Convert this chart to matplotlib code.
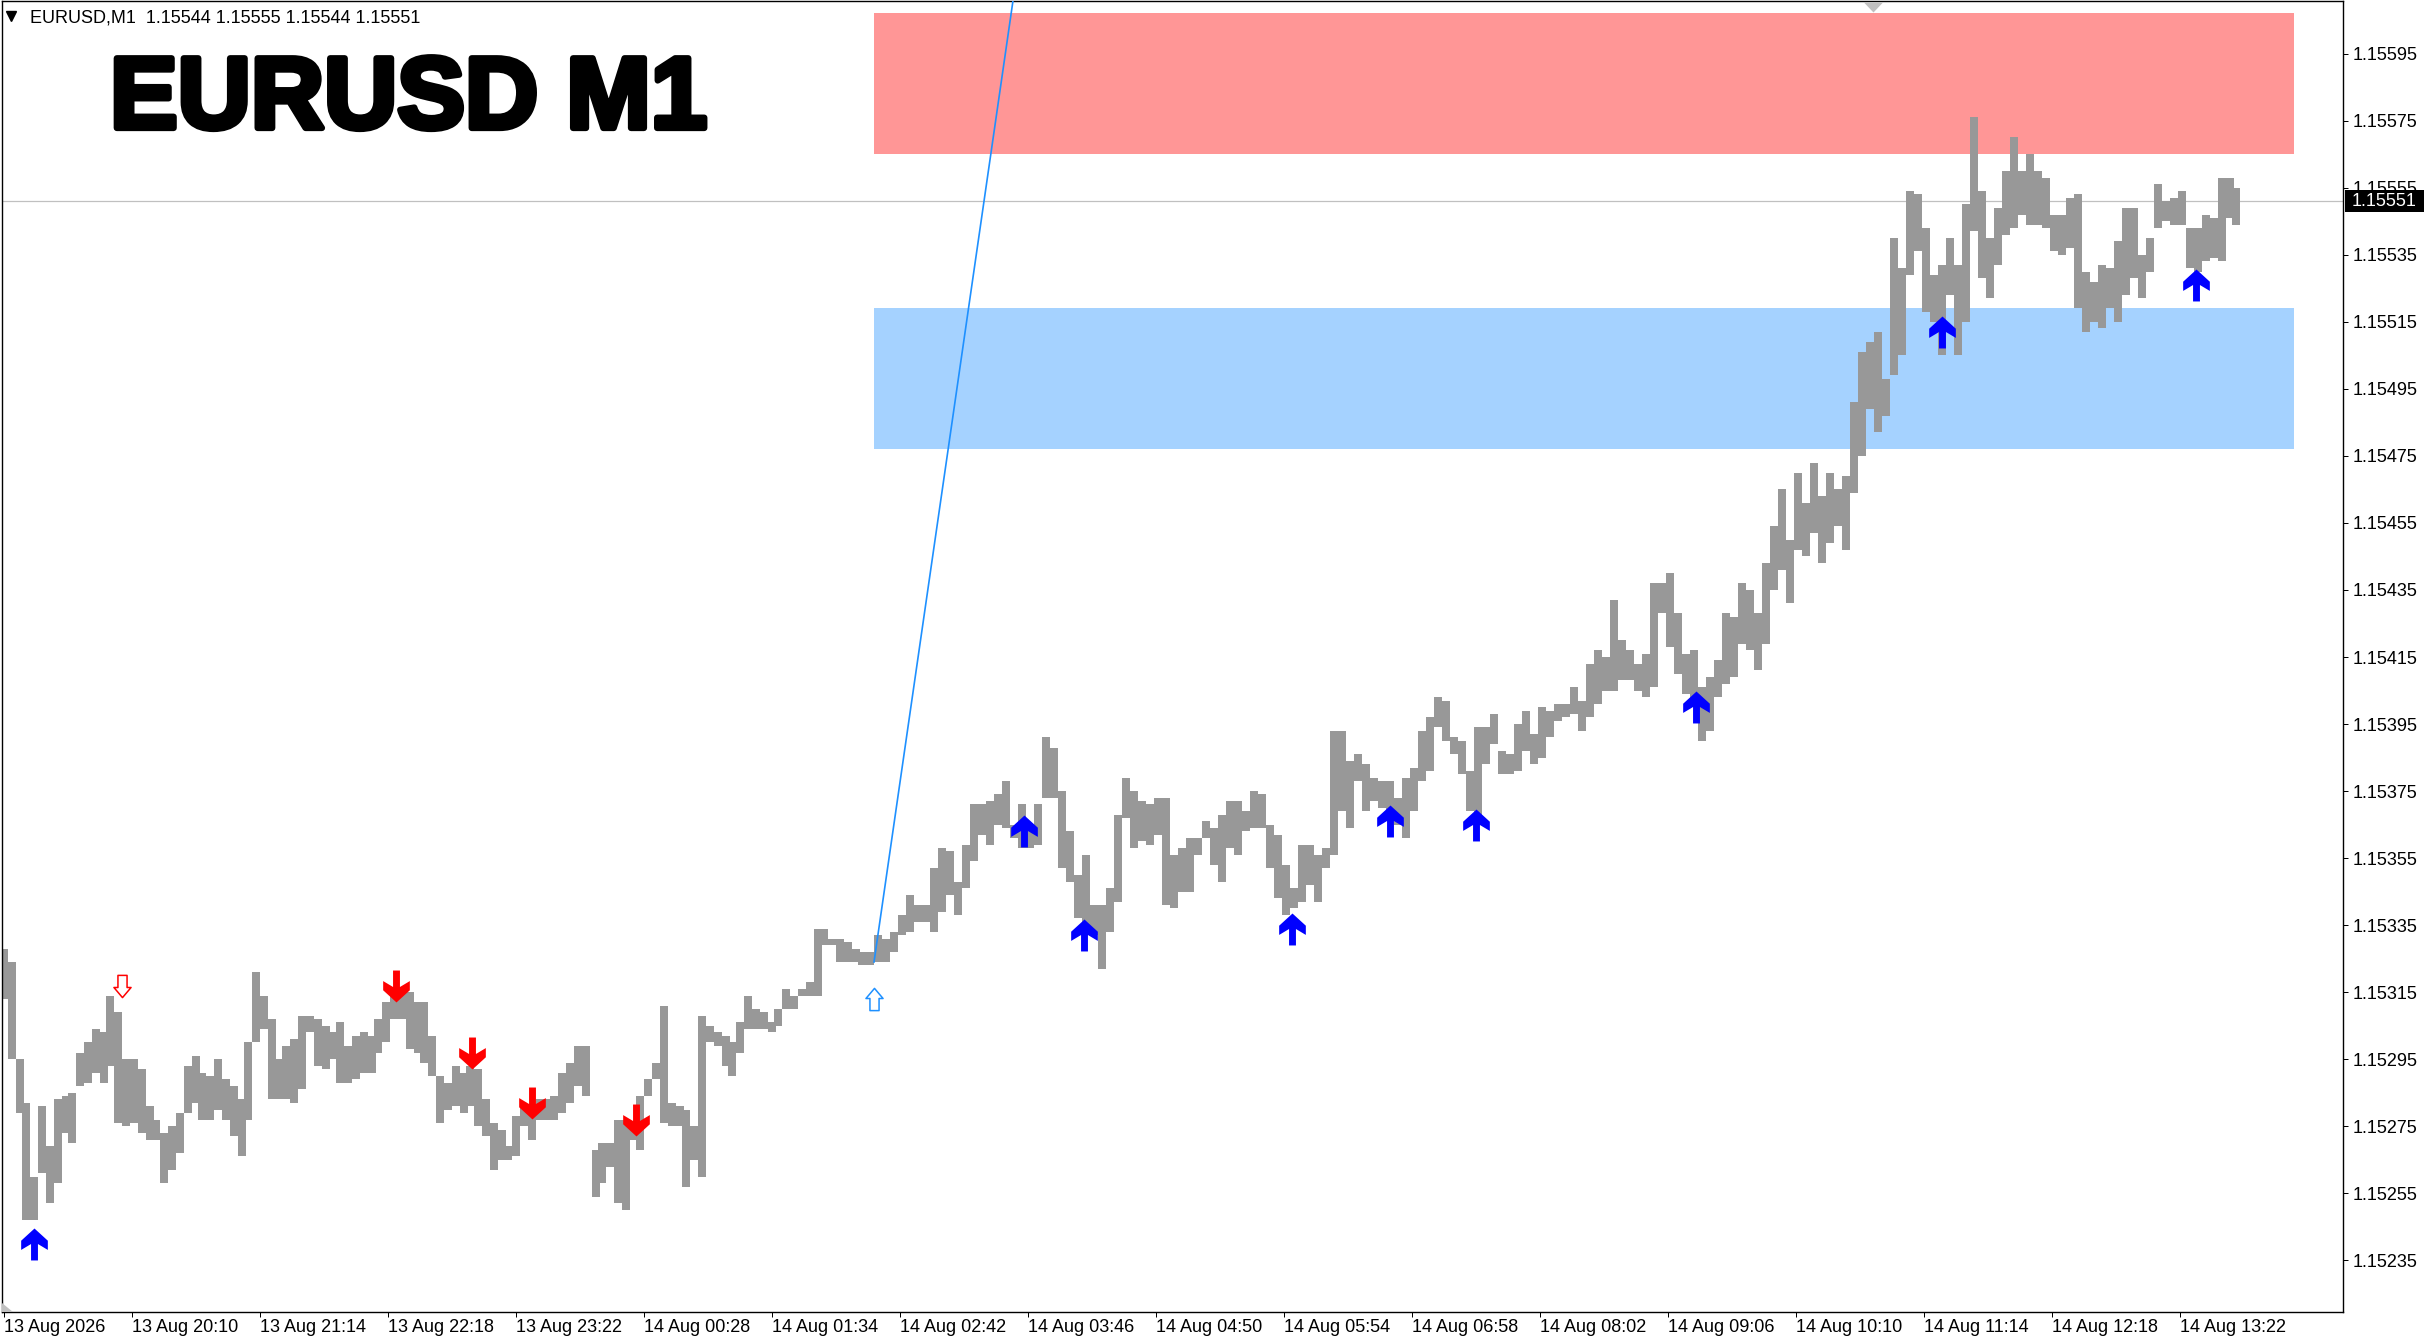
import numpy as np
import matplotlib
matplotlib.use('Agg')
import matplotlib.pyplot as plt
import matplotlib.patheffects as pe
from matplotlib.path import Path
from matplotlib.patches import Rectangle, Polygon
from matplotlib.transforms import blended_transform_factory

plt.rcParams['font.family'] = ['Liberation Sans', 'DejaVu Sans']

# price columns (each one groups ~4 one-minute bars): minute offset, high, low
seg_a_min = [0, 4, 8, 11, 15, 19, 23, 27, 31, 34, 38, 42, 46, 50, 53, 57, 61, 65, 69, 73,
             76, 80, 84, 88, 92, 96, 99, 103, 107, 111, 115, 119, 122, 126, 130, 134, 138, 141, 145, 149,
             153, 157, 161, 164, 168, 172, 176, 180, 184, 187, 191, 195, 199, 203, 207, 210, 214, 218, 222, 226,
             230, 233, 237, 241, 245, 249, 252, 256, 260, 264, 268, 272, 275, 279, 283, 287, 291]
seg_a_high = [1.15328, 1.15324, 1.15295, 1.15282, 1.15260, 1.15281, 1.15269, 1.15283, 1.15284, 1.15285,
              1.15297, 1.15300, 1.15304, 1.15303, 1.15314, 1.15309, 1.15295, 1.15295, 1.15292, 1.15281,
              1.15277, 1.15273, 1.15275, 1.15279, 1.15293, 1.15296, 1.15291, 1.15290, 1.15295, 1.15289,
              1.15287, 1.15283, 1.15300, 1.15321, 1.15314, 1.15307, 1.15295, 1.15299, 1.15301, 1.15308,
              1.15308, 1.15307, 1.15305, 1.15303, 1.15306, 1.15299, 1.15302, 1.15303, 1.15302, 1.15307,
              1.15312, 1.15314, 1.15315, 1.15315, 1.15312, 1.15312, 1.15302, 1.15290, 1.15288, 1.15293,
              1.15291, 1.15293, 1.15292, 1.15283, 1.15276, 1.15274, 1.15269, 1.15278, 1.15281, 1.15281,
              1.15283, 1.15283, 1.15284, 1.15291, 1.15294, 1.15299, 1.15299]
seg_a_low = [1.15313, 1.15295, 1.15279, 1.15247, 1.15247, 1.15261, 1.15252, 1.15258, 1.15273, 1.15270,
             1.15287, 1.15288, 1.15291, 1.15288, 1.15293, 1.15276, 1.15275, 1.15276, 1.15273, 1.15271,
             1.15271, 1.15258, 1.15262, 1.15267, 1.15279, 1.15282, 1.15277, 1.15277, 1.15280, 1.15277,
             1.15272, 1.15266, 1.15277, 1.15300, 1.15304, 1.15283, 1.15283, 1.15283, 1.15282, 1.15286,
             1.15303, 1.15293, 1.15292, 1.15295, 1.15288, 1.15288, 1.15289, 1.15291, 1.15291, 1.15297,
             1.15300, 1.15307, 1.15307, 1.15298, 1.15297, 1.15294, 1.15290, 1.15276, 1.15280, 1.15281,
             1.15279, 1.15281, 1.15275, 1.15272, 1.15262, 1.15265, 1.15265, 1.15266, 1.15275, 1.15271,
             1.15277, 1.15277, 1.15277, 1.15279, 1.15282, 1.15287, 1.15284]

seg_b_min = [296, 299, 303, 307, 311, 315, 318, 322, 326, 330, 334, 338, 341, 345, 349, 353, 357, 361, 364, 368,
             372, 376, 380, 384, 387, 391, 395, 399, 403, 407, 410, 414, 418, 422, 426, 429, 433, 437]
seg_b_high = [1.15268, 1.15270, 1.15270, 1.15277, 1.15277, 1.15274, 1.15284, 1.15289, 1.15294, 1.15311,
              1.15282, 1.15281, 1.15280, 1.15275, 1.15308, 1.15305, 1.15303, 1.15302, 1.15300, 1.15306,
              1.15314, 1.15310, 1.15309, 1.15306, 1.15310, 1.15316, 1.15314, 1.15316, 1.15318, 1.15334,
              1.15334, 1.15331, 1.15331, 1.15330, 1.15328, 1.15327, 1.15327, 1.15332]
seg_b_low = [1.15254, 1.15258, 1.15263, 1.15252, 1.15250, 1.15271, 1.15268, 1.15284, 1.15289, 1.15276,
             1.15275, 1.15275, 1.15257, 1.15265, 1.15260, 1.15300, 1.15299, 1.15293, 1.15290, 1.15297,
             1.15304, 1.15304, 1.15304, 1.15303, 1.15305, 1.15310, 1.15310, 1.15314, 1.15314, 1.15314,
             1.15329, 1.15329, 1.15324, 1.15324, 1.15324, 1.15323, 1.15323, 1.15324]

seg_c_min = [441, 445, 449, 453, 457, 461, 465, 469, 473, 477, 481, 485, 489, 493, 497, 501, 505, 509, 513, 517,
             521, 525, 529, 533, 537, 541, 545, 549, 553, 557, 561, 565, 569, 573, 577, 581, 585, 589, 593, 597,
             601, 605, 609, 613, 617, 621, 625, 629, 633, 637, 641, 645, 649, 653, 657, 661, 665, 669, 673, 677,
             681, 685, 689, 693, 697, 701, 705, 709]
seg_c_high = [1.15331, 1.15333, 1.15338, 1.15344, 1.15341, 1.15341, 1.15352, 1.15358, 1.15357, 1.15348,
              1.15359, 1.15371, 1.15371, 1.15372, 1.15374, 1.15378, 1.15365, 1.15371, 1.15365, 1.15371,
              1.15391, 1.15388, 1.15375, 1.15363, 1.15350, 1.15356, 1.15341, 1.15341, 1.15346, 1.15368,
              1.15379, 1.15375, 1.15372, 1.15371, 1.15373, 1.15373, 1.15356, 1.15358, 1.15361, 1.15361,
              1.15366, 1.15364, 1.15368, 1.15372, 1.15372, 1.15369, 1.15375, 1.15374, 1.15365, 1.15362,
              1.15353, 1.15346, 1.15359, 1.15359, 1.15356, 1.15358, 1.15393, 1.15393, 1.15384, 1.15386,
              1.15383, 1.15379, 1.15378, 1.15378, 1.15373, 1.15379, 1.15382, 1.15393]
seg_c_low = [1.15324, 1.15327, 1.15332, 1.15333, 1.15336, 1.15336, 1.15333, 1.15339, 1.15344, 1.15338,
             1.15346, 1.15354, 1.15362, 1.15359, 1.15365, 1.15364, 1.15361, 1.15358, 1.15358, 1.15359,
             1.15373, 1.15373, 1.15352, 1.15348, 1.15337, 1.15332, 1.15332, 1.15322, 1.15333, 1.15342,
             1.15367, 1.15358, 1.15360, 1.15359, 1.15362, 1.15341, 1.15340, 1.15345, 1.15345, 1.15356,
             1.15361, 1.15353, 1.15348, 1.15358, 1.15356, 1.15363, 1.15364, 1.15364, 1.15352, 1.15343,
             1.15338, 1.15340, 1.15342, 1.15347, 1.15342, 1.15352, 1.15356, 1.15369, 1.15364, 1.15378,
             1.15369, 1.15372, 1.15370, 1.15369, 1.15365, 1.15361, 1.15369, 1.15378]

seg_d_min = [713, 717, 721, 725, 729, 733, 737, 741, 745, 749, 753, 757, 761, 765, 769, 773, 777, 781, 785, 789,
             793, 797, 801, 805, 809, 813, 817, 821, 825, 829, 833, 837, 841, 845, 849, 853, 857, 861, 865, 869,
             873, 877, 881]
seg_d_high = [1.15397, 1.15403, 1.15402, 1.15391, 1.15390, 1.15381, 1.15394, 1.15394, 1.15398, 1.15387,
              1.15386, 1.15395, 1.15399, 1.15392, 1.15400, 1.15399, 1.15401, 1.15401, 1.15406, 1.15402,
              1.15413, 1.15417, 1.15415, 1.15432, 1.15420, 1.15417, 1.15413, 1.15416, 1.15437, 1.15437,
              1.15440, 1.15428, 1.15416, 1.15417, 1.15406, 1.15409, 1.15414, 1.15428, 1.15427, 1.15437,
              1.15435, 1.15428, 1.15443]
seg_d_low = [1.15381, 1.15394, 1.15390, 1.15386, 1.15380, 1.15369, 1.15367, 1.15383, 1.15389, 1.15380,
             1.15380, 1.15381, 1.15387, 1.15383, 1.15385, 1.15391, 1.15396, 1.15397, 1.15398, 1.15393,
             1.15397, 1.15401, 1.15405, 1.15405, 1.15408, 1.15408, 1.15405, 1.15403, 1.15406, 1.15428,
             1.15418, 1.15410, 1.15404, 1.15400, 1.15390, 1.15393, 1.15403, 1.15407, 1.15409, 1.15419,
             1.15417, 1.15411, 1.15419]

seg_e_min = [885, 889, 893, 897, 901, 905, 909, 913, 917, 921, 925, 929, 933, 937, 941, 945, 949, 953, 957, 961,
             965, 969, 973, 977, 981]
seg_e_high = [1.15454, 1.15465, 1.15450, 1.15470, 1.15461, 1.15473, 1.15463, 1.15470, 1.15465, 1.15469,
              1.15491, 1.15506, 1.15509, 1.15512, 1.15498, 1.15540, 1.15531, 1.15554, 1.15553, 1.15543,
              1.15529, 1.15532, 1.15540, 1.15532, 1.15550]
seg_e_low = [1.15435, 1.15441, 1.15431, 1.15447, 1.15445, 1.15452, 1.15443, 1.15449, 1.15454, 1.15447,
             1.15464, 1.15475, 1.15489, 1.15482, 1.15487, 1.15499, 1.15505, 1.15529, 1.15536, 1.15518,
             1.15515, 1.15505, 1.15523, 1.15505, 1.15515]

seg_f_min = [985, 989, 993, 997, 1001, 1005, 1009, 1013, 1017, 1021, 1025, 1029, 1033, 1037, 1041, 1045, 1049,
             1053, 1057, 1061, 1065, 1069, 1073, 1077, 1081, 1085, 1089, 1093, 1097, 1101, 1105, 1109, 1113, 1116]
seg_f_high = [1.15576, 1.15554, 1.15540, 1.15549, 1.15560, 1.15570, 1.15560, 1.15565, 1.15560, 1.15558,
              1.15547, 1.15547, 1.15552, 1.15553, 1.15530, 1.15527, 1.15532, 1.15531, 1.15539, 1.15549,
              1.15549, 1.15535, 1.15540, 1.15556, 1.15551, 1.15552, 1.15554, 1.15543, 1.15543, 1.15547,
              1.15546, 1.15558, 1.15558, 1.15555]
seg_f_low = [1.15542, 1.15528, 1.15522, 1.15532, 1.15541, 1.15543, 1.15547, 1.15544, 1.15544, 1.15543,
             1.15536, 1.15535, 1.15537, 1.15519, 1.15512, 1.15515, 1.15513, 1.15519, 1.15515, 1.15523,
             1.15528, 1.15522, 1.15530, 1.15543, 1.15545, 1.15544, 1.15544, 1.15531, 1.15530, 1.15533,
             1.15534, 1.15533, 1.15546, 1.15544]

# signal arrows: (minute, price)
buy_min = [15, 510, 540, 644, 693, 736, 846, 969, 1096]
buy_price = [1.15240, 1.15363, 1.15332, 1.15334, 1.15366, 1.15365, 1.15400, 1.15512, 1.15526]
sell_min = [196, 234, 264, 316]
sell_price = [1.15317, 1.15297, 1.15282, 1.15277]
open_sell_min, open_sell_price = [59], [1.15317]
open_buy_min, open_buy_price = [435], [1.15313]

# zones and trend line
zone_start, zone_end = 435, 1145
supply_zone = (1.15565, 1.15607)
demand_zone = (1.15477, 1.15519)
trend_min = [435, 506]
trend_price = [1.15324, 1.15617]

bid = 1.15551
header = 'EURUSD,M1  1.15544 1.15555 1.15544 1.15551'
price_ticks = [1.15235, 1.15255, 1.15275, 1.15295, 1.15315, 1.15335, 1.15355, 1.15375, 1.15395,
               1.15415, 1.15435, 1.15455, 1.15475, 1.15495, 1.15515, 1.15535, 1.15555, 1.15575, 1.15595]
time_tick_min = [0, 64, 128, 192, 256, 320, 384, 448, 512, 576, 640, 704, 768, 832, 896, 960, 1024, 1088]
time_labels = ['13 Aug 2026', '13 Aug 20:10', '13 Aug 21:14', '13 Aug 22:18', '13 Aug 23:22',
               '14 Aug 00:28', '14 Aug 01:34', '14 Aug 02:42', '14 Aug 03:46', '14 Aug 04:50',
               '14 Aug 05:54', '14 Aug 06:58', '14 Aug 08:02', '14 Aug 09:06', '14 Aug 10:10',
               '14 Aug 11:14', '14 Aug 12:18', '14 Aug 13:22']

col_min = seg_a_min + seg_b_min + seg_c_min + seg_d_min + seg_e_min + seg_f_min
col_high = np.array(seg_a_high + seg_b_high + seg_c_high + seg_d_high + seg_e_high + seg_f_high)
col_low = np.array(seg_a_low + seg_b_low + seg_c_low + seg_d_low + seg_e_low + seg_f_low)

W, H = 2436, 1344
fig = plt.figure(figsize=(W / 100, H / 100), dpi=100)
ax = fig.add_axes([1.5 / W, 32 / H, 2341.5 / W, 1311 / H])
ax.set_xlim(-1.25, 1169.5)
ax.set_ylim(1.152196, 1.156107)

for s in ax.spines.values():
    s.set_color('black')
    s.set_linewidth(1.0)

# zones
ax.add_patch(Rectangle((zone_start, supply_zone[0]), zone_end - zone_start,
                       supply_zone[1] - supply_zone[0], fc='#ff9696', ec='none', zorder=0.5))
ax.add_patch(Rectangle((zone_start, demand_zone[0]), zone_end - zone_start,
                       demand_zone[1] - demand_zone[0], fc='#a5d2ff', ec='none', zorder=0.5))

ax.axhline(bid, color='#c0c0c0', lw=0.9, zorder=1)

# price bars
ax.bar(col_min, col_high - col_low, bottom=col_low, width=3.6, color='#989898', lw=0, zorder=2)

ax.plot(trend_min, trend_price, color='#1e90ff', lw=1.2, zorder=3)

# arrows
up_verts = [(0, 1), (0.835, 0.237), (0.835, -0.34), (0.216, 0.03), (0.216, -1),
            (-0.216, -1), (-0.216, 0.03), (-0.835, -0.34), (-0.835, 0.237), (0, 1)]
up_arrow = Path(up_verts, closed=True)
down_arrow = Path([(x, -y) for x, y in up_verts], closed=True)
hol_verts = [(-0.41, 1), (0.41, 1), (0.41, -0.09), (0.77, -0.09), (0, -1),
             (-0.77, -0.09), (-0.41, -0.09), (-0.41, 1)]
hollow_down = Path(hol_verts, closed=True)
hollow_up = Path([(x, -y) for x, y in hol_verts], closed=True)

ax.plot(buy_min, buy_price, ls='none', marker=up_arrow, ms=23, mfc='#0000ff', mec='none', zorder=5)
ax.plot(sell_min, sell_price, ls='none', marker=down_arrow, ms=23, mfc='#ff0000', mec='none', zorder=5)
ax.plot(open_sell_min, open_sell_price, ls='none', marker=hollow_down, ms=16,
        mfc='white', mec='#ff0000', mew=1.1, zorder=5)
ax.plot(open_buy_min, open_buy_price, ls='none', marker=hollow_up, ms=16,
        mfc='white', mec='#1e90ff', mew=1.1, zorder=5)

# axes ticks
ax.yaxis.tick_right()
ax.set_yticks(price_ticks, [f'{p:.5f}' for p in price_ticks])
ax.tick_params(axis='y', direction='out', length=3.6, width=0.72, pad=3.6,
               labelsize=13, colors='black')
ax.set_xticks(time_tick_min, time_labels)
ax.tick_params(axis='x', direction='out', length=3.6, width=0.72, pad=1.5,
               labelsize=13, colors='black')
for lbl in ax.get_xticklabels():
    lbl.set_ha('left')

# current price box (covers part of the label below it, as in the terminal)
trans = blended_transform_factory(ax.transAxes, ax.transData)
box_h = 22 / 3.352 * 1e-5
ax.add_patch(Rectangle((1 + 2 / 2341.5, bid - box_h / 2), 79 / 2341.5, box_h,
                       transform=trans, fc='black', ec='none', clip_on=False, zorder=6))
ax.text(1 + 9 / 2341.5, bid, f'{bid:.5f}', transform=trans, color='white', fontsize=13,
        va='center', ha='left', clip_on=False, zorder=7)

# small chart markers
ax.plot([934.7], [1 - 6 / 1311], transform=blended_transform_factory(ax.transData, ax.transAxes),
        marker=Path([(-0.95, 0.5), (0.95, 0.5), (0, -0.5), (-0.95, 0.5)], closed=True),
        ms=13.7, mfc='#c0c0c0', mec='none', clip_on=False, zorder=6)
fig.patches.append(Polygon([(2 / W, 1 - 1303 / H), (2 / W, 1 - 1312 / H), (13 / W, 1 - 1312 / H)],
                           closed=True, transform=fig.transFigure, fc='#c0c0c0', ec='none'))

# header and title
fig.text(29.6 / W, 1 - 22.7 / H, header, fontsize=13, va='baseline', ha='left')
ax.plot([11 / W], [1 - 15.5 / H], transform=fig.transFigure, marker='v', ms=7,
        color='black', clip_on=False)
fig.text(110 / W, 1 - 128 / H, 'EURUSD M1', fontsize=73, fontweight='bold',
         va='baseline', ha='left',
         path_effects=[pe.withStroke(linewidth=4.5, foreground='black')])

fig.savefig('out.png', dpi=100)
